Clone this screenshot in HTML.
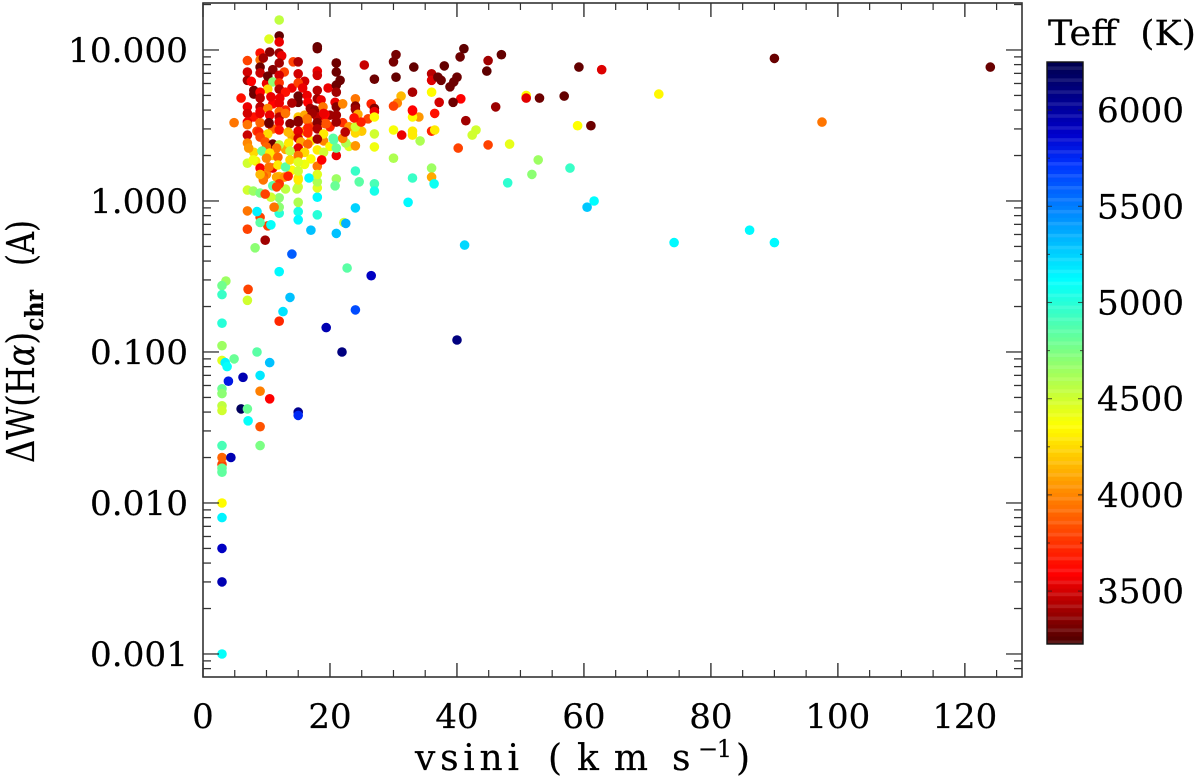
<!DOCTYPE html>
<html>
<head>
<meta charset="utf-8">
<title>Delta W(H-alpha) vs vsini</title>
<style>
html,body{margin:0;padding:0;background:#fff;}
svg{display:block;}
text{font-family:"DejaVu Serif","Liberation Serif",serif;fill:#000;stroke:#000;stroke-width:0.2px;}
</style>
</head>
<body>
<svg id="chart" xmlns="http://www.w3.org/2000/svg" width="1200" height="782" viewBox="0 0 1200 782">
  <rect x="0" y="0" width="1200" height="782" fill="#fff"/>
  <g id="points"></g>
  <g id="axes"></g>
  <g id="colorbar"></g>
  <text x="415" y="770" font-size="36" textLength="104" lengthAdjust="spacing">vsini</text>
  <text x="548" y="770" font-size="36" textLength="100" lengthAdjust="spacing">(km</text>
  <text x="672" y="770" font-size="36">s</text>
  <text x="698" y="757" font-size="24" textLength="34" lengthAdjust="spacing">−1</text>
  <text x="736" y="770" font-size="36">)</text>
  <text transform="translate(34,463) rotate(-90)" x="0" y="0" font-size="38" textLength="131" lengthAdjust="spacingAndGlyphs">ΔW(H<tspan font-style="italic">α</tspan>)</text>
  <text transform="translate(43,331) rotate(-90)" x="0" y="0" font-size="25" font-weight="bold" textLength="41" lengthAdjust="spacingAndGlyphs">chr</text>
  <text transform="translate(34,266) rotate(-90)" x="0" y="0" font-size="38" textLength="46" lengthAdjust="spacingAndGlyphs">(A)</text>
  <text x="1048" y="45" font-size="35" textLength="148" lengthAdjust="spacingAndGlyphs">Teff&#160;&#160;(K)</text>
</svg>
<script>
// Point data: vsini (km/s), Delta W (A), Teff (K), row-aligned
const vsini = [
8,8.5,10,11,11,13,14,14,16,17,
17,19,20,20,22,23,23,25,26,11,
13,14,16,10,8,17,19,20,13,12,
12,10.4,12,12,18,18,12,10.5,9,7,
9,9.5,12.4,12,14.2,15,9,7,9,11,
12.8,15,18,18,10.2,7,7.6,12,16,15,
11,12,12,8,8,10.2,15.7,18,19.7,13,
6,9,9,10.7,12.1,15,15,14,16.4,16.5,
18,18.6,21,21,21.6,21,21,20.8,21,21,
21,7,7,7,4.9,9,9,10.2,12,12,
9,10.4,10.5,12,13,13.7,15,15,16,16.9,
17.6,18,18.9,19.2,19.2,16.4,18,16.5,9,
7,12,15,17.2,19,10.4,16.4,18,19.4,7,8.8,
12,13.4,15,10.2,16.5,19,7,7.2,9,9.8,
11,12,13.5,15,15.4,18,16.5,15,10,11.6,
9.3,10.5,13.7,16,18,19,7,8.3,9,10,
11,10.4,11.8,11.8,13,13.7,15,15,18,18.7,
9.5,9.5,11.6,12.8,13.4,15,12,15,7.9,9,
9.8,7,9,10.2,9,10.7,8.5,7,12,15,
15,18,17,21,22.2,22.5,24,18,15,12,
12,11.2,10.7,7,7.9,9,9.8,11,11.6,14.8,
18,18,18,15,15,16.7,21,20.8,24,24.6,
27,27,30,27,27,30,24,24,24,41.4,
43,42.4,40.2,36.5,34,33,33,33,33,36,
36.5,34.2,31.3,36,36,36.4,33,32.3,21,20.6,
21,22.5,22,22.4,20.5,
21,25.4,30.4,30,33.2,
38,41.1,40.5,27,30.4,36,36,37,37.5,40,
39.5,38.9,36,33,40.6,39.4,37.2,31.2,30.6,30,
33,26.5,27,27,27,24,24,24,22,24.4,
24.9,23.8,47,44.9,44.7,59.2,62.8,71.8,50.9,50.9,
53,56.9,46.1,59,61.1,44.9,48.3,52.8,51.8,57.8,
48,61.6,60.5,74.2,86.1,90,90,97.5,124,41.2,
8.2,14,22.7,26.5,12,3.6,3,3,7.1,7,
13.7,12.6,24,12,19.4,3,3,8.5,21.9,3,
4.9,10.5,3.5,3.8,9,6.3,4,9,10.5,3,
3,3,3,6,7,15,15,7.1,9,3,
9,3,3,4.4,3,3,3,3,3,3,
3,40
];
const deltaW = [
3.6,2.9,6,4.4,3,4,5.6,2.7,2.9,2.5,
1.9,2.5,3.1,3.7,3.3,3.1,2.3,2.9,3.5,2,
2.2,1.6,1.75,1.5,2.1,3.1,3.4,2.3,1.2,1.45,
15.8,11.8,12.4,11.3,10.5,10.2,9.55,9.7,9.55,8.5,
8.6,8.85,9.15,8.2,8.35,8.35,7.7,7.15,7.05,7.4,
7.15,6.95,7.25,6.8,6.7,6.3,6.2,6.8,6.2,6.05,
6.15,6.05,5.5,5.4,5.1,5.5,5.6,5.4,5.6,5.25,
4.8,5.25,4.8,4.9,4.8,4.95,4.5,4.45,5,4.5,
4.75,4.67,8.2,7.15,6.3,5.85,5.25,4.5,4.2,3.7,
3.33,4.2,3.8,3.33,3.3,4.2,3.9,4.1,4.45,3.9,
3.3,3.25,3.7,3.6,3.8,3.25,3.6,3.33,3.7,4.1,
4,3.6,4.2,3.75,3.25,3.44,3.3,3.05,3.8,
3.2,3.33,3.4,3.8,3.8,3.3,3.5,3,3.25,2.73,2.86,
2.95,2.86,2.9,2.78,2.82,2.78,2.42,2.24,2.65,2.46,
2.38,2.35,2.42,2.6,2.46,2.57,2.38,2.24,2.28,2.24,
2.14,2.08,2.14,2.1,2.18,2.1,1.78,1.84,1.65,1.92,
1.65,1.68,1.95,1.73,1.68,1.87,2,1.81,1.7,1.87,
1.46,1.38,1.44,1.44,1.46,1.42,1.3,1.24,1.87,1.5,
0.55,0.65,0.78,0.685,0.72,0.695,0.85,0.86,0.83,0.85,
0.75,0.81,0.64,0.61,0.72,0.71,0.9,1.06,0.98,0.91,
1.05,0.91,1.06,1.18,1.165,1.13,1.11,1.26,1.24,1.2,
1.22,1.34,1.5,1.38,1.58,1.42,1.4,1.26,1.58,1.34,
1.3,1.165,1.92,2.28,2.78,2.95,2.32,2.82,3.1,3.4,
2.95,2.73,2.24,3.8,3.6,3.6,3.95,2.9,2.73,2.9,
2.95,2.5,2.73,1.65,1.44,1.3,1.42,0.98,2,2.54,
2.24,2.42,2.6,2.86,2.6,
8.2,7.95,9.3,8.35,7.7,
7.85,10.2,9,6.4,6.6,6.95,6.3,6.6,6.3,6.6,
6.15,5.7,5.25,5.25,4.75,4.5,4.5,4.95,4.45,4.25,
4,4.4,4.1,3.9,3.6,4.75,4.25,4.05,4.4,3.75,
3.33,3.55,9.3,8.5,7.25,7.7,7.4,5.1,5,4.8,
4.8,4.95,4.2,3.15,3.15,2.35,2.38,1.87,1.5,1.65,
1.32,1,0.91,0.53,0.64,0.53,8.8,3.33,7.7,0.51,
0.49,0.445,0.36,0.32,0.34,0.295,0.275,0.24,0.26,0.22,
0.23,0.185,0.19,0.16,0.145,0.155,0.11,0.1,0.1,0.088,
0.09,0.085,0.085,0.08,0.07,0.068,0.064,0.055,0.049,0.057,
0.053,0.044,0.041,0.042,0.042,0.04,0.038,0.035,0.032,0.024,
0.024,0.018,0.02,0.02,0.017,0.016,0.01,0.008,0.005,0.003,
0.001,0.12
];
const teff = [
3650,3800,3550,3600,3900,3700,3550,4100,4150,4300,
4350,4000,3700,3400,3750,4050,4450,4200,3800,4200,
4100,4350,4400,4000,4250,3800,3600,4350,4550,4200,
4550,4450,3280,3550,3280,3300,3400,3350,3650,3800,
3950,3400,3550,3400,3800,3430,3300,3500,3480,3350,
3800,3500,3550,3500,3300,3400,3600,3500,3500,3800,
4700,3750,3430,3300,3300,4250,3550,3450,3550,3650,
3650,3600,3450,3550,3550,3300,3300,3430,3550,3600,
3400,3550,3300,3300,3300,3300,3400,3550,3350,3400,
3400,3550,3500,3550,3950,3450,3550,4000,3550,3900,
3900,3400,3550,3450,3950,3350,4200,3350,4100,3400,
3350,3450,3950,3600,3900,3900,3350,3700,3550,
3950,3550,3350,3400,3550,3300,3950,3430,3850,3480,3700,
3650,4150,3530,4250,3700,4300,4000,4050,3800,3850,
3300,4550,4300,3500,4100,3400,3900,3530,3900,3950,
4800,4300,4550,4250,4300,4500,4500,4300,3580,4000,
3550,3950,3900,4300,4850,4250,3950,4450,3950,3600,
3900,3950,4100,4050,3700,4300,3750,4500,4400,4150,
3400,3800,3800,3800,4850,5100,5150,3950,5000,5050,
5130,5000,5300,5300,4500,5350,5250,5130,4600,4700,
4700,3950,4500,4500,4650,4750,3800,4850,3800,4550,
4450,4600,4450,4300,4500,5130,4650,4800,4950,4850,
4900,5050,4600,4400,4500,4380,4050,4250,4500,3400,
4500,4500,3800,3650,4050,4350,3600,4300,4300,3700,
4300,4600,3550,4650,4100,5080,4950,5130,3550,4850,
4800,4600,4000,3450,4850,
3300,3480,3320,3320,3280,
3280,3270,3300,3300,3280,3450,3520,3300,3300,3300,
3300,3300,4350,3420,3600,3300,3500,4150,4000,3800,
3600,3700,3350,3550,4350,3950,3350,3400,4000,4100,
3700,3650,3280,3400,3270,3280,3520,4340,4350,3530,
3300,3280,3390,4360,3300,3800,4430,4650,4700,4950,
4980,5120,5280,5130,5130,5130,3290,3950,3290,5230,
4700,5600,4850,5900,5130,4650,4780,4950,3800,4500,
5300,5200,5650,3720,5950,5000,4650,4850,6100,4450,
4800,5300,5150,5100,5180,5950,5800,3980,3600,4800,
4700,4550,4500,6200,4800,6050,5750,5100,3850,4900,
4750,3800,3900,5950,4800,4830,4350,5150,5900,5950,
5100,6100
];
const xTickValues = [0,20,40,60,80,100,120];
const xTickLabels = ["0","20","40","60","80","100","120"];
const yTickValues = [10,1,0.1,0.01,0.001];
const yTickLabels = ["10.000","1.000","0.100","0.010","0.001"];
const cbarTickValues = [3500,4000,4500,5000,5500,6000];
const cbarTickLabels = ["3500","4000","4500","5000","5500","6000"];

const NS = "http://www.w3.org/2000/svg";
const plot = {left:203,right:1022,top:3,bottom:677};
const xDomain = [0,129];
const yDomain = [0.000704,20.47];
const cbar = {left:1047,right:1083,top:62,bottom:644};
const teffDomain = [3225,6250];

function xScale(v){return plot.left+(v-xDomain[0])/(xDomain[1]-xDomain[0])*(plot.right-plot.left);}
function yScale(d){
  const a=Math.log10(yDomain[0]),b=Math.log10(yDomain[1]);
  return plot.bottom-(Math.log10(d)-a)/(b-a)*(plot.bottom-plot.top);
}
function cScale(t){return cbar.bottom-(t-teffDomain[0])/(teffDomain[1]-teffDomain[0])*(cbar.bottom-cbar.top);}
function clamp(x){return Math.max(0,Math.min(1,x));}
function jet(t){
  const f=1-(t-teffDomain[0])/(teffDomain[1]-teffDomain[0]);
  let r=clamp(4*f-1.5);
  if(f>0.88){r=1-(f-0.88)/0.12*0.72;}
  const g=clamp(Math.min(4*f-0.5,-4*f+3.5));
  const b=clamp(Math.min(4*f+0.3,-4*f+2.5));
  return "rgb("+Math.round(r*255)+","+Math.round(g*255)+","+Math.round(b*255)+")";
}
function mk(tag,attrs,parent){
  const el=document.createElementNS(NS,tag);
  for(const k in attrs){el.setAttribute(k,attrs[k]);}
  parent.appendChild(el);
  return el;
}

const pts=document.getElementById("points");
for(let i=0;i<vsini.length;i++){
  const c=mk("circle",{cx:xScale(vsini[i]).toFixed(1),cy:yScale(deltaW[i]).toFixed(1),r:4.8,fill:jet(teff[i])},pts);
  
  
}

const axes=document.getElementById("axes");
function tickLine(x1,y1,x2,y2,color,w,name){
  const l=mk("line",{x1:x1,y1:y1,x2:x2,y2:y2,stroke:color,"stroke-width":w},axes);
  
  
}
// x ticks
for(let v=0;v<=xDomain[1];v+=5){
  const major=v%20===0;
  const len=major?14:7;
  const x=xScale(v);
  tickLine(x,plot.bottom,x,plot.bottom-len,"#333",major?1.4:1.2,"x-axis-tick");
  tickLine(x,plot.top,x,plot.top+len,"#333",major?1.4:1.2,"x-axis-tick-top");
}
// y ticks
for(let e=-4;e<=1;e++){
  for(let m=1;m<=9;m++){
    const d=m*Math.pow(10,e);
    if(d<yDomain[0]||d>yDomain[1])continue;
    const y=yScale(d);
    const len=m===1?16:8;
    tickLine(plot.left,y,plot.left+len,y,"#333",1.3,"y-axis-tick");
    tickLine(plot.right,y,plot.right-len,y,"#333",1.3,"y-axis-tick-right");
  }
}
const frame=mk("rect",{x:plot.left,y:plot.top,width:plot.right-plot.left,height:plot.bottom-plot.top,fill:"none",stroke:"#333","stroke-width":1.6},axes);



xTickValues.forEach(function(v,i){
  const t=mk("text",{x:xScale(v),y:728,"font-size":34,"text-anchor":"middle"},axes);
  t.textContent=xTickLabels[i];
  
  
});
yTickValues.forEach(function(v,i){
  const t=mk("text",{x:188,y:yScale(v)+12,"font-size":34,"text-anchor":"end",textLength:(yTickLabels[i].length-1)*22+10,lengthAdjust:"spacingAndGlyphs"},axes);
  t.textContent=yTickLabels[i];
  
  
});

// colour bar
const cb=document.getElementById("colorbar");
const bandCount=146;
for(let i=0;i<bandCount;i++){
  const t0=teffDomain[0]+(teffDomain[1]-teffDomain[0])*i/bandCount;
  const t1=teffDomain[0]+(teffDomain[1]-teffDomain[0])*(i+1)/bandCount;
  const r=mk("rect",{x:cbar.left,y:cScale(t1).toFixed(2),width:cbar.right-cbar.left,height:(cScale(t0)-cScale(t1)+0.4).toFixed(2),fill:jet((t0+t1)/2),opacity:i%3===0?0.9:1},cb);
  
  
}
const cbFrame=mk("rect",{x:cbar.left,y:cbar.top,width:cbar.right-cbar.left,height:cbar.bottom-cbar.top,fill:"none",stroke:"#111","stroke-width":1.4},cb);


for(let t=3500;t<=6250;t+=250){
  const y=cScale(t);
  const len=(t%500===0)?5:3;
  const a=mk("line",{x1:cbar.left,y1:y,x2:cbar.left+len,y2:y,stroke:"#222","stroke-width":1.1,opacity:0.7},cb);
  
  
  const b=mk("line",{x1:cbar.right,y1:y,x2:cbar.right-len,y2:y,stroke:"#222","stroke-width":1.1,opacity:0.7},cb);
  
  
}
cbarTickValues.forEach(function(v,i){
  const t=mk("text",{x:1097,y:cScale(v)+12,"font-size":34,textLength:87,lengthAdjust:"spacingAndGlyphs"},cb);
  t.textContent=cbarTickLabels[i];
  
  
});
</script>
</body>
</html>
